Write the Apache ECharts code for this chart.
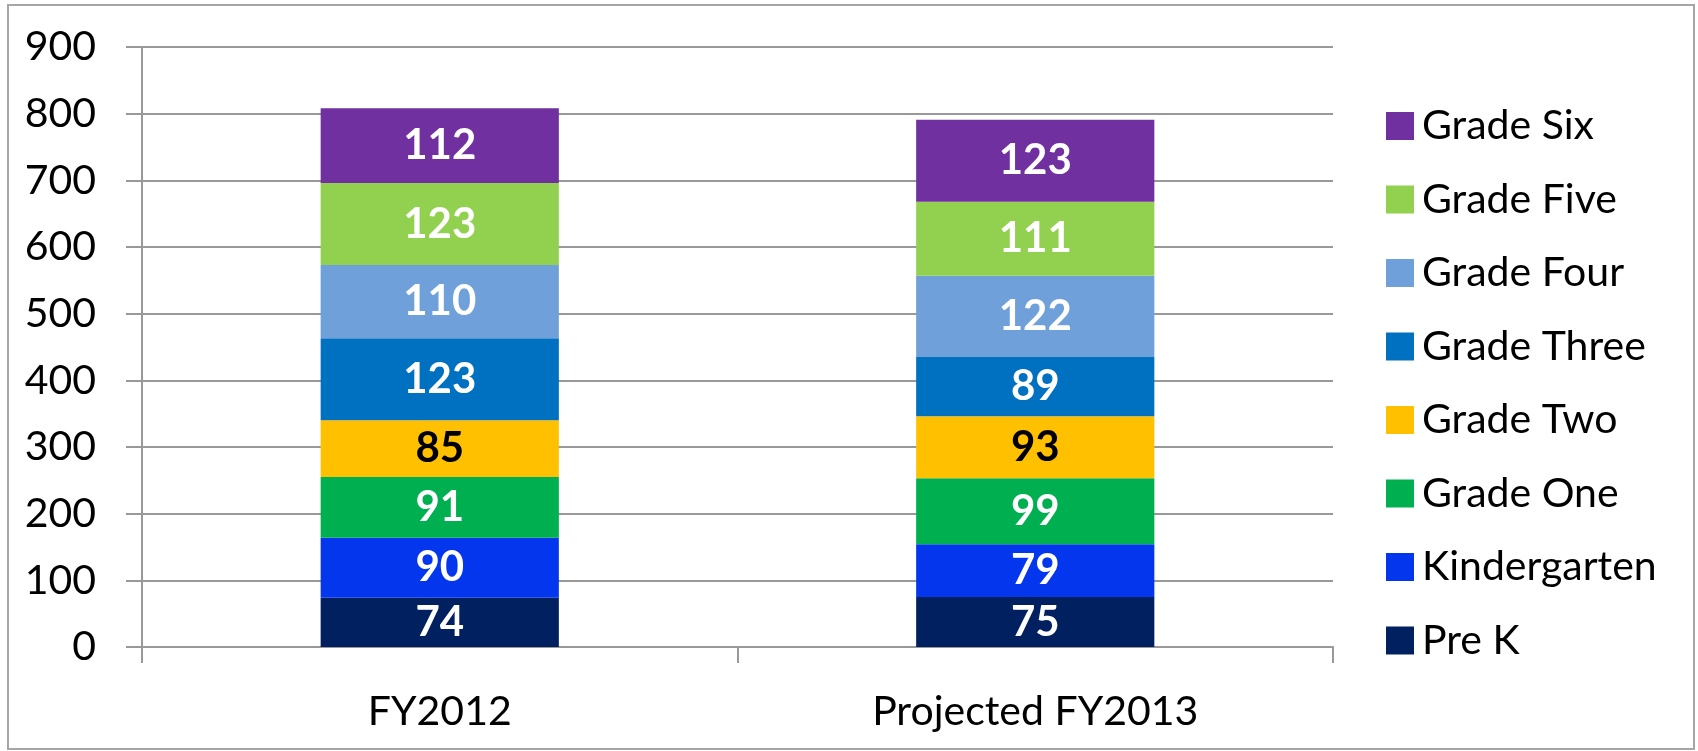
<!DOCTYPE html>
<html>
<head>
<meta charset="utf-8">
<script src="https://cdn.jsdelivr.net/npm/echarts@6/dist/echarts.min.js"></script>
<style>
html,body{margin:0;padding:0;background:#fff;}
#chart{width:1698px;height:751px;}
</style>
</head>
<body>
<div id="chart"></div>
<script>
const categories = ['FY2012', 'Projected FY2013'];
const seriesNames = ['Pre K', 'Kindergarten', 'Grade One', 'Grade Two', 'Grade Three', 'Grade Four', 'Grade Five', 'Grade Six'];
const preK = [74, 75];
const kindergarten = [90, 79];
const gradeOne = [91, 99];
const gradeTwo = [85, 93];
const gradeThree = [123, 89];
const gradeFour = [110, 122];
const gradeFive = [123, 111];
const gradeSix = [112, 123];
const yTicks = [0, 100, 200, 300, 400, 500, 600, 700, 800, 900];

const values = [preK, kindergarten, gradeOne, gradeTwo, gradeThree, gradeFour, gradeFive, gradeSix];
const colors = ['#002060', '#0436EE', '#00B050', '#FFC000', '#0070C0', '#70A0DA', '#92D050', '#7030A0'];
const labelColors = ['#fff', '#fff', '#fff', '#000', '#fff', '#fff', '#fff', '#fff'];

const FONT = 'Lato';
const chart = echarts.init(document.getElementById('chart'), null, {renderer: 'canvas'});
chart.setOption({
  animation: false,
  backgroundColor: '#fff',
  textStyle: {fontFamily: FONT},
  graphic: [{
    type: 'rect',
    shape: {x: 8, y: 5, width: 1686, height: 744},
    style: {fill: 'none', stroke: '#a6a6a6', lineWidth: 2},
    silent: true
  }],
  grid: {left: 142, right: 365, top: 47, bottom: 104, containLabel: false},
  legend: {
    orient: 'vertical',
    left: 1381,
    top: 99,
    itemWidth: 28,
    itemHeight: 28,
    itemGap: 29.5,
    icon: 'rect',
    data: seriesNames.slice().reverse(),
    textStyle: {fontFamily: FONT, fontSize: 41, color: '#000', lineHeight: 44, padding: [0, 0, 0, 3]}
  },
  xAxis: {
    type: 'category',
    data: categories,
    axisLine: {show: true, lineStyle: {color: '#999', width: 2}},
    axisTick: {show: true, length: 16, lineStyle: {color: '#999', width: 2}},
    axisLabel: {fontFamily: FONT, fontSize: 41, color: '#000', margin: 44, lineHeight: 41}
  },
  yAxis: {
    type: 'value',
    min: yTicks[0],
    max: yTicks[yTicks.length - 1],
    interval: 100,
    axisLine: {show: true, lineStyle: {color: '#999', width: 2}},
    axisTick: {show: true, length: 16, lineStyle: {color: '#999', width: 2}},
    splitLine: {show: true, lineStyle: {color: '#999', width: 2}},
    axisLabel: {fontFamily: FONT, fontSize: 41, color: '#000', margin: 46}
  },
  series: seriesNames.map((name, i) => ({
    name: name,
    type: 'bar',
    stack: 'total',
    barWidth: '40%',
    data: values[i],
    itemStyle: {color: colors[i]},
    label: {
      show: true,
      position: 'inside',
      fontFamily: FONT,
      fontSize: 42,
      fontWeight: 'bold',
      color: labelColors[i]
    }
  }))
});
</script>
</body>
</html>
